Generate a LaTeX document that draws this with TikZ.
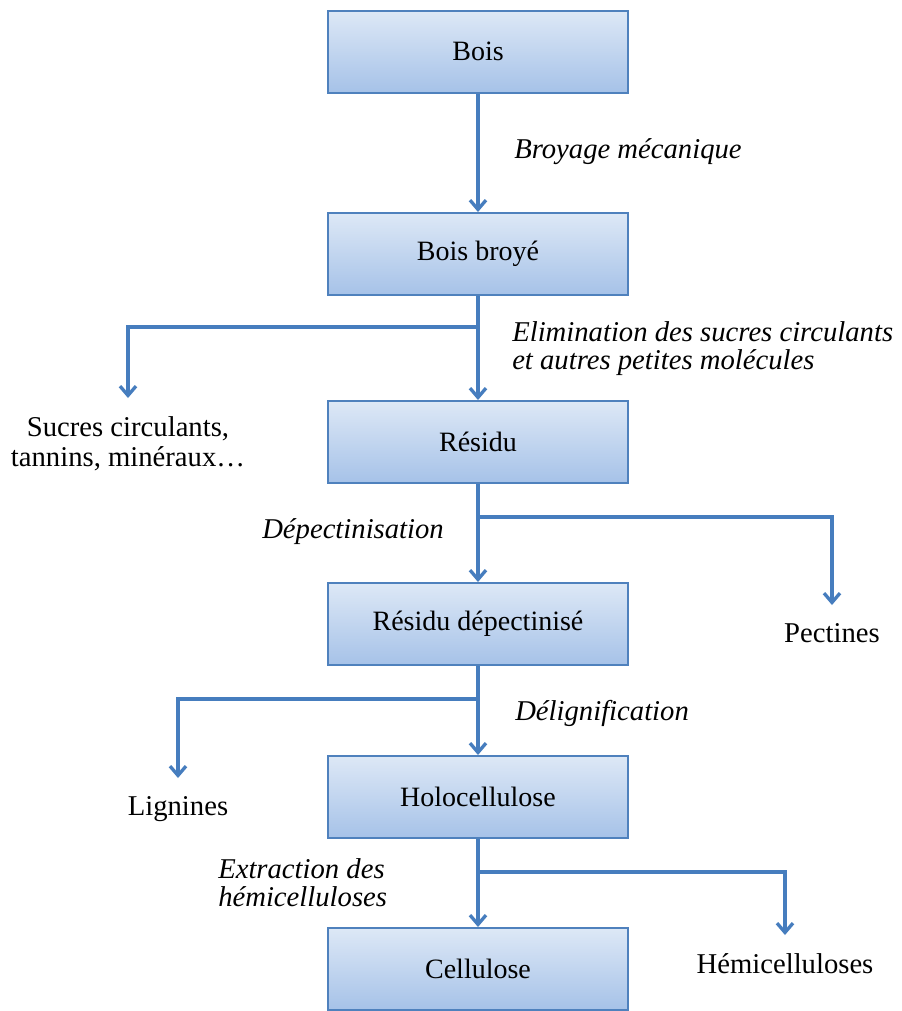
\documentclass[tikz,border=0pt]{standalone}
\usepackage{fontspec}
\setmainfont{Liberation Serif}
\definecolor{boxtop}{RGB}{221,232,246}
\definecolor{boxbottom}{RGB}{166,194,232}
\definecolor{boxblue}{RGB}{79,129,189}
\definecolor{flowblue}{RGB}{70,125,190}
\usetikzlibrary{arrows.meta, positioning}

\begin{document}
\begin{tikzpicture}[
    x=0.75pt, y=-0.75pt,
    stage/.style={rectangle, draw=boxblue, line width=1.5pt,
                  top color=boxtop, bottom color=boxbottom,
                  minimum width=225pt, minimum height=61.5pt,
                  font=\fontsize{21}{25}\selectfont},
    product/.style={anchor=north, align=center, inner ysep=13.5pt,
                    font=\fontsize{21.5}{22.5}\selectfont},
    process/.style={anchor=base west, align=left, inner sep=0pt,
                    font=\fontsize{21.5}{21}\selectfont\itshape},
    flow/.style={draw=flowblue, line width=2.5pt,
                 -{Straight Barb[length=7pt, width=12pt]}}
]
\useasboundingbox (0,0) rectangle (902,1011);

% main chain
\node[stage] (bois)    at (478,51.5) {Bois};
\node[stage] (broye)   at (478,254)  {Bois broyé};
\node[stage] (residu)  at (478,442)  {Résidu};
\node[stage] (depect)  at (478,624)  {Résidu dépectinisé};
\node[stage] (holo)    at (478,797)  {Holocellulose};
\node[stage] (cellu)   at (478,969)  {Cellulose};

% side products
\node[product] (sucres) at (128,398) {Sucres circulants,\\tannins, minéraux…};
\node[product] (pect)   at (832,605) {Pectines};
\node[product] (lign)   at (178,778) {Lignines};
\node[product] (hemi)   at (785,935) {Hémicelluloses};

% treatments (base = last line)
\node[process] (broyage)  at (514,158) {Broyage mécanique};
\node[process] (elim)     at (512,369) {Elimination des sucres circulants\\et autres petites molécules};
\node[process] (depectin) at (262,538) {Dépectinisation};
\node[process] (delign)   at (515,720) {Délignification};
\node[process] (extract)  at (218,906) {Extraction des\\hémicelluloses};

\draw[flow] (bois) -- (broye);
\draw[flow] (broye) -- (residu);
\draw[flow] (broye.south) -- ++(0,31) -| (sucres.north);
\draw[flow] (residu) -- (depect);
\draw[flow] (residu.south) -- ++(0,33) -| (pect.north);
\draw[flow] (depect) -- (holo);
\draw[flow] (depect.south) -- ++(0,33) -| (lign.north);
\draw[flow] (holo) -- (cellu);
\draw[flow] (holo.south) -- ++(0,33) -| (hemi.north);
\end{tikzpicture}
\end{document}
